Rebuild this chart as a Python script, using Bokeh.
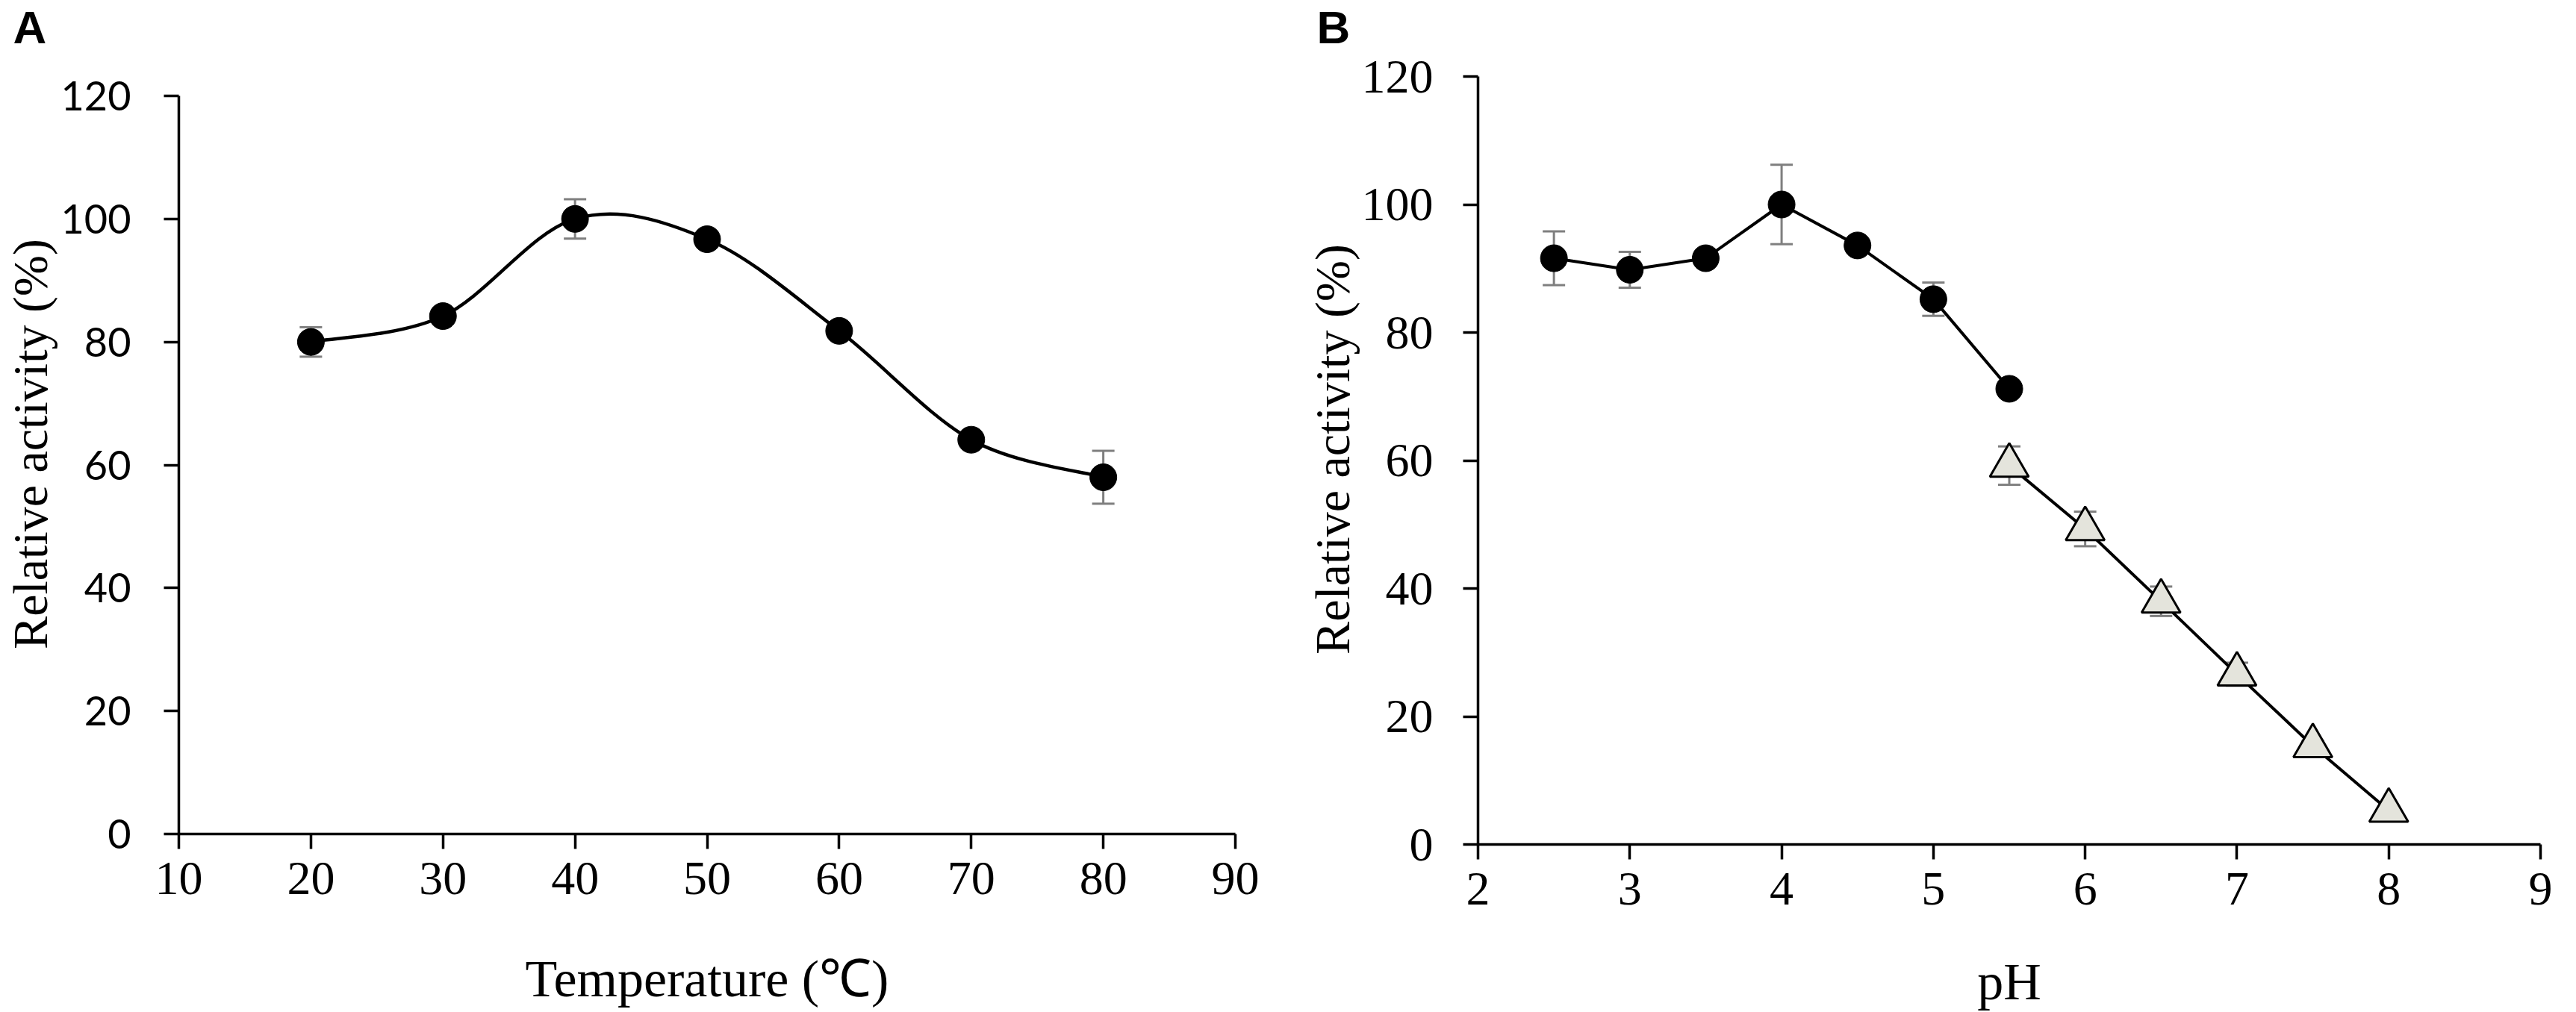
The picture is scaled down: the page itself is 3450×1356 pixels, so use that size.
from bokeh.plotting import figure
from bokeh.models import Range1d, FixedTicker, Whisker, TeeHead, ColumnDataSource
from bokeh.layouts import row, column
from bokeh.embed import file_html
from bokeh.resources import INLINE

# ---- data ----
temp_c = [20, 30, 40, 50, 60, 70, 80]
temp_activity = [80.0, 84.2, 100.0, 96.7, 81.8, 64.1, 58.0]
temp_err = [2.4, 0.8, 3.2, 0.8, 0.8, 0.8, 4.3]

ph_acid = [2.5, 3.0, 3.5, 4.0, 4.5, 5.0, 5.5]
ph_acid_activity = [91.6, 89.8, 91.6, 100.0, 93.6, 85.2, 71.2]
ph_acid_err = [4.2, 2.8, 0.8, 6.2, 0.8, 2.6, 0.8]

ph_base = [5.5, 6.0, 6.5, 7.0, 7.5, 8.0]
ph_base_activity = [59.2, 49.3, 38.0, 26.6, 15.4, 5.3]
ph_base_err = [3.0, 2.7, 2.3, 1.8, 0.8, 0.5]

temp_ticks = [10, 20, 30, 40, 50, 60, 70, 80, 90]
ph_ticks = [2, 3, 4, 5, 6, 7, 8, 9]
y_ticks = [0, 20, 40, 60, 80, 100, 120]

SERIF = "Liberation Serif"
ERR = "#7f7f7f"
H = 1420
TOP = 72  # room above the plot area for the panel letter


def smooth_segments(xs, ys):
    """Cubic Bezier segments (Catmull-Rom style smoothing, as in a spreadsheet 'smoothed line')."""
    n = len(xs)
    d = dict(x0=[], y0=[], x1=[], y1=[], cx0=[], cy0=[], cx1=[], cy1=[])
    for i in range(n - 1):
        xa, ya = (xs[i - 1], ys[i - 1]) if i > 0 else (xs[i], ys[i])
        xd, yd = (xs[i + 2], ys[i + 2]) if i + 2 < n else (xs[i + 1], ys[i + 1])
        d["x0"].append(xs[i]); d["y0"].append(ys[i])
        d["x1"].append(xs[i + 1]); d["y1"].append(ys[i + 1])
        d["cx0"].append(xs[i] + (xs[i + 1] - xa) / 6.0)
        d["cy0"].append(ys[i] + (ys[i + 1] - ya) / 6.0)
        d["cx1"].append(xs[i + 1] - (xd - xs[i]) / 6.0)
        d["cy1"].append(ys[i + 1] - (yd - ys[i]) / 6.0)
    return d


def style(p, xticks, ytick_font, ytick_size, ystandoff, xtitle, xtitle_standoff,
          ytitle_size, ytitle_standoff, letter, letter_offset):
    p.xaxis.ticker = FixedTicker(ticks=xticks)
    p.yaxis.ticker = FixedTicker(ticks=y_ticks)
    p.yaxis.bounds = (y_ticks[0], y_ticks[-1])
    p.xgrid.visible = False
    p.ygrid.visible = False
    p.outline_line_color = None
    for ax in (p.xaxis[0], p.yaxis[0]):
        ax.axis_line_width = 3.5
        ax.axis_line_color = "black"
        ax.major_tick_line_width = 3.5
        ax.major_tick_line_color = "black"
        ax.major_tick_in = 0
        ax.major_tick_out = 20
        ax.minor_tick_line_color = None
        ax.major_label_text_color = "black"
        ax.axis_label_text_color = "black"
        ax.axis_label_text_font = SERIF
        ax.axis_label_text_font_style = "normal"
    p.xaxis.major_label_text_font = SERIF
    p.xaxis.major_label_text_font_size = "64px"
    p.yaxis.major_label_text_font = ytick_font
    p.yaxis.major_label_text_font_size = ytick_size
    p.xaxis.major_label_standoff = 18
    p.yaxis.major_label_standoff = ystandoff
    p.xaxis.axis_label = xtitle
    p.xaxis.axis_label_text_font_size = "70px"
    p.xaxis.axis_label_standoff = xtitle_standoff
    p.yaxis.axis_label = "Relative activity (%)"
    p.yaxis.axis_label_text_font_size = ytitle_size
    p.yaxis.axis_label_standoff = ytitle_standoff
    p.title.text = letter
    p.title.align = "left"
    p.title.vertical_align = "top"
    p.title.offset = letter_offset
    p.title.standoff = 0
    p.title.text_font = "Liberation Sans"
    p.title.text_font_style = "bold"
    p.title.text_font_size = "62px"
    p.title.text_color = "black"


def whiskers(p, xs, ys, errs):
    src = ColumnDataSource(dict(x=xs, upper=[y + e for y, e in zip(ys, errs)],
                                lower=[y - e for y, e in zip(ys, errs)]))
    w = Whisker(source=src, base="x", upper="upper", lower="lower", dimension="height",
                line_color=ERR, line_width=3,
                upper_head=TeeHead(size=30, line_color=ERR, line_width=3),
                lower_head=TeeHead(size=30, line_color=ERR, line_width=3),
                level="underlay")
    p.add_layout(w)


# ---- Panel A: temperature ----
# plot area spans page y 80..1125; the 0..120 axis occupies 136..1125 (the rest is headroom)
pA = figure(width=1740, height=H, output_backend="svg", toolbar_location=None,
            x_range=Range1d(10, 90), y_range=Range1d(0, 120 * (1125 - 8 - TOP) / (1125 - 136)),
            min_border_left=230, min_border_right=86, min_border_top=TOP,
            min_border_bottom=H + 8 - 1125,
            background_fill_color="white", border_fill_color="white")
style(pA, temp_ticks, "Lato", "54px", 44, "Temperature (℃)", 72, "66px", 2, "A", -222)

whiskers(pA, temp_c, temp_activity, temp_err)
pA.bezier(source=ColumnDataSource(smooth_segments(temp_c, temp_activity)),
          x0="x0", y0="y0", x1="x1", y1="y1", cx0="cx0", cy0="cy0", cx1="cx1", cy1="cy1",
          line_color="black", line_width=4.5)
pA.scatter(temp_c, temp_activity, marker="circle", size=36, fill_color="black", line_color="black")

# ---- Panel B: pH ----
# plot area spans page y 80..1139; the 0..120 axis occupies 110..1139
pB = figure(width=1694, height=H, output_backend="svg", toolbar_location=None,
            x_range=Range1d(2, 9), y_range=Range1d(0, 120 * (1139 - 8 - TOP) / (1139 - 110)),
            min_border_left=239, min_border_right=32, min_border_top=TOP,
            min_border_bottom=H + 8 - 1139,
            background_fill_color="white", border_fill_color="white")
style(pB, ph_ticks, SERIF, "64px", 40, "pH", 62, "66px", 0, "B", -216)

whiskers(pB, ph_acid, ph_acid_activity, ph_acid_err)
whiskers(pB, ph_base, ph_base_activity, ph_base_err)
pB.line(ph_acid, ph_acid_activity, line_color="black", line_width=4)
pB.line(ph_base, ph_base_activity, line_color="black", line_width=4)
pB.scatter(ph_acid, ph_acid_activity, marker="circle", size=36, fill_color="black", line_color="black")
pB.scatter(ph_base, ph_base_activity, marker="triangle", size=52, fill_color="#e4e4dc",
           line_color="black", line_width=3)

layout = row(column(pA), column(pB))
open("out.html", "w").write(file_html(layout, INLINE))
